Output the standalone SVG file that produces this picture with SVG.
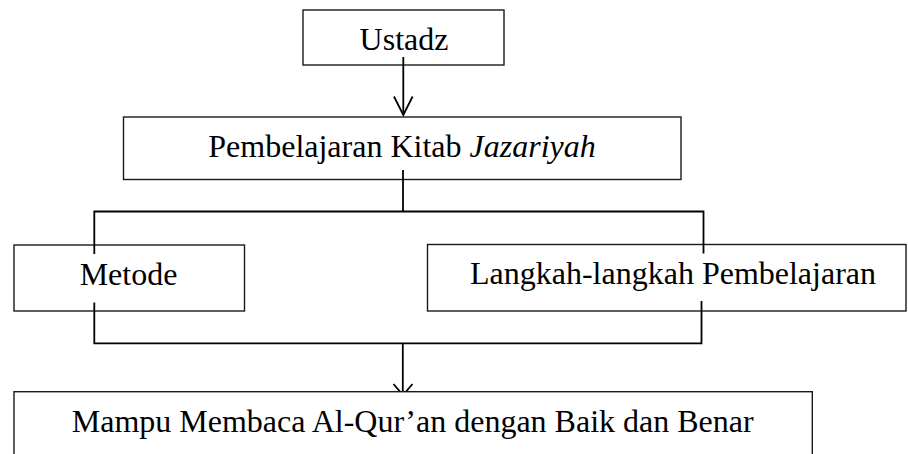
<svg xmlns="http://www.w3.org/2000/svg" width="908" height="454" viewBox="0 0 908 454">
<style>
.box{fill:none;stroke:#1a1a1a;stroke-width:1.4}
.boxw{fill:#fff;stroke:#1a1a1a;stroke-width:1.4}
.t{font-family:"Liberation Serif","Times New Roman",serif;font-size:32px;fill:#000;text-anchor:middle}
.c{fill:none;stroke:#000;stroke-width:1.8}
</style>
<rect width="908" height="454" fill="#fff"/>
<g id="ustadz">
<rect class="box" x="303" y="10" width="201" height="55"/>
<text class="t" x="404" y="50">Ustadz</text>
</g>
<g id="pembelajaran">
<rect class="box" x="123.5" y="117" width="557.5" height="62.5"/>
<text class="t" x="402" y="156.5">Pembelajaran Kitab <tspan font-style="italic">Jazariyah</tspan></text>
</g>
<g id="metode">
<rect class="box" x="14" y="245" width="230.5" height="66"/>
<text class="t" x="128.5" y="284.5">Metode</text>
</g>
<g id="langkah">
<rect class="box" x="427.5" y="244.5" width="478.5" height="66.5"/>
<text class="t" x="673" y="284">Langkah-langkah Pembelajaran</text>
</g>
<g id="connectors">
<line class="c" x1="403.3" y1="57" x2="403.3" y2="115"/>
<path class="c" d="M394,96.5 L403.3,115 L412.6,96.5"/>
<polyline class="c" points="403,170 403,211.5"/>
<polyline class="c" points="94.3,254 94.3,211.5 703.5,211.5 703.5,253.5"/>
<polyline class="c" points="94.3,302.5 94.3,343.3 701.5,343.3 701.5,301"/>
<line class="c" x1="402.8" y1="343.3" x2="402.8" y2="392"/>
<path class="c" d="M393.5,384 L403,395 L412.5,384"/>
</g>
<g id="hasil">
<rect class="boxw" x="14" y="391.7" width="798.3" height="80"/>
<text class="t" x="412.7" y="431.5">Mampu Membaca Al-Qur’an dengan Baik dan Benar</text>
</g>
</svg>
